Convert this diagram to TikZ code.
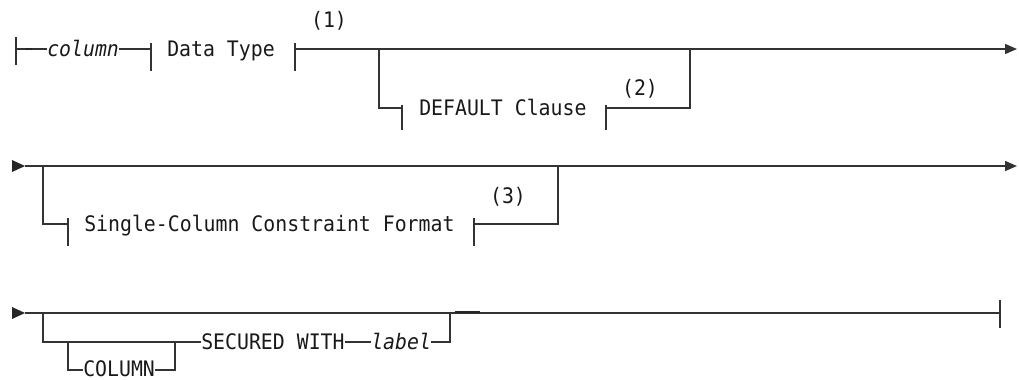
\documentclass[tikz,border=0pt]{standalone}
\usepackage{fontspec}
\newfontfamily\mono[FakeStretch=0.93]{DejaVu Sans Mono}
\usetikzlibrary{arrows.meta,calc}
\begin{document}
\begin{tikzpicture}[x=0.75pt,y=-0.75pt,
  ln/.style={line width=1.1pt, draw=black!80},
  txt/.style={font=\mono\fontsize{16}{19}\selectfont, text=black!90, inner sep=0pt, text height=10.5pt, text depth=0pt, anchor=west},
  itxt/.style={txt, font=\mono\itshape\fontsize{16}{19}\selectfont},
  note/.style={font=\mono\fontsize{16}{19}\selectfont, text=black!90, inner sep=0pt},
  arr/.style={-{Triangle[length=9pt,width=7.5pt]}},
  tip/.style={fill=black!85}
]
\useasboundingbox (0,0) rectangle (1019,379);
% ---------- row 1 ----------
\coordinate (s1) at (16,49);
\coordinate (dsA) at (25,49);
\coordinate (dsB) at (32,49);
\node[itxt] (col) at (47,49) {column};
\coordinate (t1) at (151,49);
\node[txt] (dt) at (167,49) {Data Type};
\coordinate (t2) at (295,49);
\coordinate (e1) at (1017,49);
\node[note] (n1) at (329,21) {(1)};
\draw[ln] ($(s1)+(0,-12)$) -- ($(s1)+(0,16)$);
\draw[ln] (s1) -- (col.west);
\draw[line width=1.8pt, black!85] (dsA) -- (dsB);
\draw[ln] (col.east) -- (t1);
\draw[ln] ($(t1)+(0,-6)$) -- ($(t1)+(0,22)$);
\draw[ln] ($(t2)+(0,-6)$) -- ($(t2)+(0,22)$);
\draw[ln,arr] (t2) -- (e1);
% DEFAULT branch
\coordinate (b1) at (379,49);
\coordinate (b2) at (379,108);
\coordinate (t3) at (402,108);
\node[txt] (dc) at (419,108) {DEFAULT Clause};
\coordinate (t4) at (606,108);
\coordinate (b3) at (690,108);
\coordinate (b4) at (690,49);
\node[note] (n2) at (640,89) {(2)};
\draw[ln] (b1) -- (b2) -- (t3);
\draw[ln] ($(t3)+(0,-3)$) -- ($(t3)+(0,22)$);
\draw[ln] ($(t4)+(0,-3)$) -- ($(t4)+(0,22)$);
\draw[ln] (t4) -- (b3) -- (b4);
% ---------- row 2 ----------
\coordinate (a2a) at (12,160);
\coordinate (r2s) at (25,166);
\coordinate (a2b) at (12,172);
\coordinate (r2e) at (1017,166);
\fill[tip] (a2a) -- (r2s) -- (a2b) -- cycle;
\draw[ln,arr] (r2s) -- (r2e);
\coordinate (c1) at (43,166);
\coordinate (c2) at (43,224);
\coordinate (t5) at (68,224);
\node[txt] (sc) at (84,224) {Single-Column Constraint Format};
\coordinate (t6) at (474,224);
\coordinate (c3) at (558,224);
\coordinate (c4) at (558,166);
\node[note] (n3) at (508,197) {(3)};
\draw[ln] (c1) -- (c2) -- (t5);
\draw[ln] ($(t5)+(0,-6)$) -- ($(t5)+(0,22)$);
\draw[ln] ($(t6)+(0,-6)$) -- ($(t6)+(0,22)$);
\draw[ln] (t6) -- (c3) -- (c4);
% ---------- row 3 ----------
\coordinate (a3a) at (12,307);
\coordinate (r3s) at (25,313);
\coordinate (a3b) at (12,319);
\coordinate (r3e) at (1000,313);
\fill[tip] (a3a) -- (r3s) -- (a3b) -- cycle;
\draw[ln] (r3s) -- (r3e);
\draw[ln] ($(r3e)+(0,-13)$) -- ($(r3e)+(0,15)$);
\coordinate (d1) at (43,313);
\coordinate (d2) at (43,342);
\coordinate (d3) at (68,342);
\coordinate (d4) at (68,370);
\node[txt, text height=9pt] (cn) at (83,370) {COLUMN};
\coordinate (d5) at (175,370);
\coordinate (d6) at (175,342);
\node[txt] (sw) at (201,342) {SECURED WITH};
\node[itxt] (lb) at (371,342) {label};
\coordinate (d7) at (450,342);
\coordinate (d8) at (450,313);
\coordinate (dkA) at (455,312);
\coordinate (dkB) at (480,312);
\draw[ln] (d1) -- (d2) -- (sw.west);
\draw[ln] (d3) -- (d4) -- (cn.west);
\draw[ln] (cn.east) -- (d5) -- (d6);
\draw[ln] (sw.east) -- (lb.west);
\draw[ln] (lb.east) -- (d7) -- (d8);
\draw[line width=1.8pt, black!85] (dkA) -- (dkB);
\end{tikzpicture}
\end{document}
